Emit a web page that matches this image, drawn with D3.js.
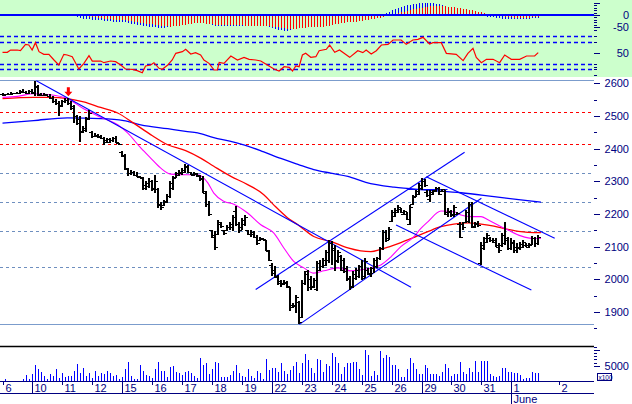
<!DOCTYPE html>
<html>
<head>
<meta charset="utf-8">
<script src="https://cdn.jsdelivr.net/npm/d3@7"></script>
<style>
  body { margin: 0; background: #fff; }
  svg { display: block; font-family: "Liberation Sans", Arial, sans-serif; }
</style>
</head>
<body>
<svg id="chart" width="632" height="404"></svg>
<script>
// ---- data: one entry per intraday bar (10 bars per trading day) ----
const highs = [
  2570,2568,2570,2572,2571,2574,2578,2582,2576,2580,
  2582,2608,2596,2570,2569,2568,2566,2560,2552,2545,
  2550,2556,2555,2546,2535,2504,2499,2468,2496,2519,
  2453,2448,2444,2442,2437,2434,2432,2436,2440,2418,
  2392,2384,2340,2336,2332,2328,2316,2312,2300,2310,
  2305,2320,2280,2237,2244,2261,2300,2315,2330,2336,
  2340,2354,2350,2330,2328,2326,2320,2315,2270,2240,
  2152,2147,2182,2177,2152,2167,2175,2198,2223,2177,
  2188,2198,2152,2152,2147,2137,2131,2126,2121,2091,
  2050,2040,2014,1999,1999,1994,1978,1927,1953,1933,
  1999,2024,2030,2009,2004,2055,2060,2065,2090,2121,
  2116,2106,2091,2075,2065,2040,2009,2024,2035,2045,
  2059,2064,2034,2039,2064,2069,2100,2151,2151,2161,
  2212,2217,2227,2217,2212,2207,2227,2258,2273,2294,
  2309,2306,2273,2273,2273,2284,2284,2278,2273,2217,
  2212,2227,2207,2176,2176,2212,2238,2238,2176,2180,
  2115,2131,2141,2131,2125,2125,2110,2141,2176,2131,
  2125,2120,2110,2115,2120,2110,2110,2133,2131,2136
];
const lows = [
  2562,2563,2563,2565,2566,2566,2568,2570,2566,2566,
  2566,2562,2560,2560,2561,2560,2553,2540,2535,2499,
  2528,2540,2535,2518,2478,2472,2420,2448,2452,2489,
  2434,2435,2432,2428,2412,2418,2416,2420,2417,2412,
  2373,2335,2315,2320,2315,2312,2310,2274,2274,2280,
  2270,2264,2218,2213,2224,2233,2250,2274,2310,2315,
  2320,2325,2325,2318,2316,2314,2300,2265,2222,2194,
  2126,2091,2136,2157,2137,2147,2150,2147,2162,2142,
  2152,2162,2137,2131,2126,2106,2116,2121,2086,2055,
  2009,2004,1984,1978,1984,1973,1902,1912,1897,1863,
  1881,1984,1963,1968,1973,1963,2024,2035,2040,2050,
  2045,2024,2050,2024,2019,1994,1968,1973,1999,2004,
  1998,2003,2013,2008,2018,2034,2060,2090,2115,2120,
  2176,2192,2202,2202,2197,2182,2166,2227,2253,2258,
  2273,2282,2253,2238,2258,2268,2258,2268,2197,2192,
  2192,2192,2197,2125,2151,2171,2171,2156,2156,2160,
  2044,2090,2110,2115,2110,2100,2080,2100,2105,2090,
  2090,2080,2080,2090,2095,2100,2095,2105,2100,2105
];
const opens = [
  2566,2565,2566,2568,2568,2570,2570,2574,2572,2570,
  2576,2570,2590,2565,2564,2565,2562,2556,2545,2540,
  2535,2545,2550,2540,2530,2500,2490,2455,2458,2495,
  2450,2440,2440,2438,2432,2425,2420,2425,2432,2416,
  2390,2378,2338,2325,2330,2318,2314,2310,2290,2285,
  2300,2275,2275,2230,2228,2238,2255,2280,2312,2320,
  2325,2330,2345,2328,2320,2322,2316,2310,2265,2230,
  2150,2135,2140,2170,2150,2150,2160,2160,2210,2170,
  2160,2170,2150,2140,2140,2130,2120,2124,2120,2088,
  2045,2030,2010,1995,1990,1990,1975,1920,1920,1930,
  1885,1990,2025,2000,1980,1970,2030,2040,2045,2060,
  2110,2095,2055,2070,2060,2035,2005,1980,2005,2010,
  2040,2010,2030,2015,2020,2040,2065,2095,2145,2125,
  2180,2195,2205,2215,2200,2200,2170,2230,2255,2262,
  2280,2300,2268,2245,2262,2272,2280,2270,2270,2200,
  2205,2200,2200,2170,2170,2175,2180,2230,2160,2170,
  2050,2095,2115,2125,2120,2120,2100,2105,2110,2125,
  2095,2110,2100,2095,2100,2105,2100,2108,2125,2110
];
const closes = [
  2565,2566,2568,2569,2570,2571,2575,2572,2570,2576,
  2572,2592,2566,2564,2566,2562,2556,2545,2540,2530,
  2545,2550,2540,2525,2500,2480,2452,2462,2492,2510,
  2440,2442,2436,2432,2420,2428,2426,2432,2420,2414,
  2380,2340,2325,2330,2320,2315,2312,2280,2295,2302,
  2280,2300,2228,2222,2240,2256,2295,2310,2325,2330,
  2335,2348,2328,2322,2324,2318,2308,2270,2230,2200,
  2130,2100,2175,2162,2142,2160,2170,2192,2170,2150,
  2182,2190,2140,2145,2130,2112,2128,2122,2090,2060,
  2020,2008,1990,1985,1992,1980,1915,1918,1945,1870,
  1990,2015,1975,1975,1998,2050,2040,2060,2085,2110,
  2090,2060,2085,2030,2025,2000,1975,2015,2030,2040,
  2005,2055,2020,2035,2060,2065,2095,2145,2120,2155,
  2205,2212,2222,2205,2208,2186,2222,2252,2270,2290,
  2302,2290,2258,2268,2270,2280,2262,2275,2205,2210,
  2198,2220,2202,2130,2160,2205,2232,2162,2172,2165,
  2105,2125,2135,2120,2115,2105,2090,2135,2120,2095,
  2115,2090,2098,2108,2115,2104,2105,2125,2110,2130
];
const volumes = [
  0,750,0,0,0,0,0,750,2030,640,
  2350,5230,3950,3100,1710,640,2350,1710,3950,1000,
  2560,1500,1710,1710,3310,5550,2780,4270,1710,2560,
  1200,3310,1710,2780,2240,3310,2780,1710,2030,750,
  1500,3950,6200,1710,750,750,5230,3310,2030,1710,
  1200,3950,6200,3310,3310,1500,4590,4910,3000,2780,
  2030,3100,3310,2780,1710,960,7480,5230,5870,2500,
  3950,6200,5870,1500,1500,1500,2000,3310,5230,2560,
  1710,1500,3950,1710,1000,3310,2560,750,7160,3630,
  4270,4270,3000,5870,3310,2240,3630,4910,6200,2780,
  5870,8760,6840,4270,2700,7100,6840,3000,5450,4910,
  8970,7900,5980,2350,4500,5770,5770,6300,6090,3950,
  2030,10040,8440,1710,3310,2030,9720,7580,8440,7690,
  5230,5230,3950,1500,1500,3950,7580,5770,3950,2240,
  2240,5230,4170,2240,2240,2240,1710,3000,5450,4380,
  1710,2240,2240,6090,3000,2240,4380,3100,6510,3100,
  6510,6510,6510,2240,1600,1500,1710,4380,4380,3100,
  3100,2780,2780,2030,640,960,960,3100,2780,2780
];
// oscillator histogram: blue series drawn first, red series drawn over it
const oscBlue = [
  1,1,1,1,1,1,1,1,1,1, 1,1,1,1,1,1,1,1,1,1,
  -3,-2,-3,-4,-6,-9,-13,-15,-15,-17,
  -19,-20,-21,-22,-24,-25,-25,-28,-29,-28,
  -27,-29,-33,-36,-37,-40,-41,-43,-46,-47,
  -48,-50,-53,-54,-52,-48,-42,-38,-34,-32,
  -30,-28,-27,-27,-28,-30,-29,-31,-34,-37,
  -40,-44,-45,-45,-44,-44,-43,-44,-45,-45,
  -44,-41,-40,-40,-41,-42,-43,-44,-46,-48,
  -52,-58,-60,-63,-64,-64,-62,-58,-52,-47,
  -44,-43,-42,-42,-44,-46,-45,-42,-36,-32,
  -30,-28,-27,-26,-27,-28,-27,-24,-22,-20,
  -19,-18,-17,-16,-14,-10,-4,3,8,12,
  20,25,30,34,37,39,41,43,44,47,
  49,50,49,48,47,46,45,40,36,30,
  26,24,22,18,16,15,14,13,10,6,
  0,-4,-7,-8,-9,-11,-13,-15,-16,-17,
  -18,-18,-18,-17,-17,-16,-15,-14,-13,-12
];
const oscRed = [
  2,2,2,2,2,2,2,2,2,2, 2,2,2,2,2,2,2,2,2,2,
  6,1,0,-1,-2,-3,-4,-5,-6,-7,
  -8,-10,-12,-14,-15,-16,-17,-19,-20,-20,
  -21,-22,-24,-26,-28,-30,-31,-33,-35,-36,
  -38,-40,-42,-44,-45,-46,-47,-46,-45,-44,
  -42,-40,-38,-36,-34,-33,-32,-33,-35,-37,
  -38,-39,-40,-40,-40,-41,-41,-41,-42,-42,
  -42,-43,-43,-43,-44,-44,-45,-45,-46,-46,
  -47,-49,-50,-52,-53,-55,-56,-56,-55,-54,
  -53,-51,-50,-49,-48,-48,-48,-47,-46,-44,
  -40,-38,-36,-34,-32,-30,-29,-28,-27,-25,
  -23,-21,-19,-17,-15,-13,-11,-8,-5,-3,
  1,4,8,11,14,17,20,23,26,28,
  30,32,34,35,36,36,36,36,35,34,
  33,31,29,27,25,23,21,19,16,14,
  11,8,5,2,0,-2,-4,-6,-8,-9,
  -10,-11,-11,-12,-12,-11,-11,-10,-9,-8
];
// RSI-type line, sampled at bar positions
const rsiAt = [0,1.6,2.7,4.9,6,7.7,8.8,9.9,11,12.2,13.8,15.5,17.2,18.8,20.5,21.6,23.3,25.5,27.2,28.9,
  30,32.8,33.9,36.1,37.8,39.5,41.1,43.4,45,46.7,47.8,49.5,50.6,52.3,53.4,55.1,56.7,57.9,60.1,61.2,
  62.9,64.5,66.2,67.3,69,70.7,71.8,72.4,74,76.3,78.5,80.7,82.4,84.6,86.3,88.5,90.7,92.4,94.1,95.8,
  96.9,98,99.1,100.2,101.3,103,104.7,105.8,108.2,109.3,111,112.6,116,118.7,120.4,121.5,123.2,124.9,
  126.6,128.8,130.5,133.2,134.9,137.1,138.8,140.5,142.7,143.8,146.6,148.3,151.6,153.9,155.5,157.2,
  158.3,160,161.7,163.9,166.1,167.8,170,172.8,175.1,177.8,179];
const rsiVal = [50.3,50.3,54.5,54.5,53.3,64.8,63.6,54.5,67.9,51.5,46.7,46.7,36.4,27.3,46.7,45.5,42.4,20,30.3,44.2,
  34.5,34.5,31.5,34.5,33.3,27.3,20,19.4,17,13.3,25.5,27.3,31.5,21.2,19.4,26.7,36.4,48.5,51.5,55.8,
  47.3,49.7,45.5,36.4,30.3,18.2,18.2,32.1,30.3,43.6,36.4,41.2,37.6,36.4,34.5,27.3,20,16.4,24.2,23,
  16.4,25.5,24.2,45.5,48.5,41.2,42.4,53.3,55.8,63.6,50.3,54.5,41.2,53.3,49.7,54.5,47.3,53.3,
  63.6,64.8,72.7,72.7,64.8,72.7,73.9,77.6,65.5,67.9,67.9,48.5,46.7,35.2,48.5,57.6,
  41.2,31.5,37.6,37.6,31.5,45.5,37.6,37.6,43.6,43.6,49.7];
// moving averages, read at bar positions
const maRedAt  = [0,10.4,16,21.7,27.1,32.8,38.5,43.8,49.5,55.2,61.2,66.2,70.6,76.3,81.9,87.3,90.6,95.3,98.7,104,
  109.7,115.4,119.7,123.1,126.4,130.8,136.5,142.1,146.5,150.8,155.5,159.9,164.2,168.9,173.2,177.6,179.9];
const maRedVal = [2553,2557,2557,2553,2543,2526,2509,2478,2443,2412,2394,2371,2346,2315,2290,2259,2228,2188,2167,2131,
  2116,2096,2087,2085,2092,2105,2125,2146,2161,2169,2173,2169,2163,2153,2146,2143,2143];
const maPinkAt  = [0,5,10.4,16,21.7,27.1,32.8,38.5,41.8,46.2,49.5,52.8,56.2,61.2,65.2,68.6,70.6,73.9,77.3,81.9,
  86.3,90.6,94,97.3,100.7,104,107.4,112,116.4,120.4,123.1,126.4,129.8,133.1,137.5,139.8,142.1,146.5,150.8,153.2,
  156.5,159.9,162.2,166.6,168.9,173.2,177.6,179.9];
const maPinkVal = [2557,2560,2568,2565,2553,2522,2496,2473,2448,2402,2371,2341,2322,2320,2320,2295,2264,2239,2230,2203,
  2167,2142,2096,2055,2035,2019,2026,2035,2026,2030,2034,2044,2069,2100,2131,2156,2176,2209,2207,2197,
  2192,2192,2182,2161,2151,2133,2125,2125];
const maBlueAt  = [0,10.4,21.7,32.8,40.5,46.2,55.2,61.2,65.2,70.6,76.3,81.9,87.3,93,98.7,104,109.7,115.4,121.4,130.8,
  142.1,153.2,164.2,173.2,179.9];
const maBlueVal = [2478,2486,2494,2492,2486,2473,2461,2453,2448,2434,2422,2408,2390,2370,2352,2336,2325,2315,2297,2282,
  2273,2265,2253,2243,2236];
// trend lines [fromBar, fromPrice, toBar, toPrice]
const trendLines = [
  [11.3,2608,136.5,1976],
  [84.6,1969,154.4,2389],
  [99.2,1862,160,2248],
  [141.6,2314,184.5,2126],
  [131.5,2166,176.7,1967],
  [135.3,2275,148.7,2275]
];
const rangeLevels = [2610,1862];
const fibLevels = [2324,2236,2148,2039];
const redLevels = [2511,2413];
const rsiLevels = [80,70,30,20];
const signalBar = 22, signalPrice = 2560;
// axis labels
const dayLabels = ["6","10","11","12","15","16","17","18","19","22","23","24","25","26","29","30","31","1","2"];
const dayBars   = [0,10,20,30,40,50,60,70,80,90,100,110,120,130,140,150,160,170,186];
const weekStarts = ["10","15","22","29","1"];
const priceTicks = [1900,2000,2100,2200,2300,2400,2500,2600];

// ---- layout ----
const svg = d3.select("#chart");
const W = 632, plotR = 594, navy = "#000080";

const x = d3.scaleLinear().domain([0, 170]).range([2.5, 511.3]);
const yP = d3.scaleLinear().domain([1900, 2600]).range([312, 83.3]);
const yO = d3.scaleLinear().domain([-50, 0]).range([27.3, 15]);
const yR = d3.scaleLinear().domain([20, 80]).range([69, 36]);
const yV = d3.scaleLinear().domain([0, 5000]).range([381.3, 365.7]);
const px = i => Math.round(x(i));
const idx = d3.range(highs.length);

svg.append("rect").attr("x", 0).attr("y", 0).attr("width", W).attr("height", 77).attr("fill", "#ccffcc");

// ---- oscillator histogram ----
const osc = svg.append("g").attr("shape-rendering", "crispEdges");
osc.selectAll(".ob").data(idx).enter().append("line")
  .attr("x1", i => px(i) + 0.5).attr("x2", i => px(i) + 0.5)
  .attr("y1", yO(0)).attr("y2", i => yO(oscBlue[i]))
  .attr("stroke", "#0000ff");
osc.selectAll(".or").data(idx).enter().append("line")
  .attr("x1", i => px(i) + 0.5).attr("x2", i => px(i) + 0.5)
  .attr("y1", yO(0)).attr("y2", i => yO(oscRed[i]))
  .attr("stroke", "#ff0000");
osc.append("line").attr("x1", 0).attr("x2", plotR).attr("y1", yO(0)).attr("y2", yO(0))
  .attr("stroke", "#0000ff").attr("stroke-width", 1.6);

// ---- RSI panel ----
svg.append("g").selectAll("line").data(rsiLevels).enter().append("line")
  .attr("x1", 0).attr("x2", plotR)
  .attr("y1", d => Math.round(yR(d)) + 0.5).attr("y2", d => Math.round(yR(d)) + 0.5)
  .attr("stroke", "#0000ff").attr("stroke-width", 1.5).attr("stroke-dasharray", "4,3");
svg.append("path").datum(rsiAt)
  .attr("d", d3.line().x(i => x(i)).y((i, k) => yR(rsiVal[k])))
  .attr("fill", "none").attr("stroke", "#ff0000").attr("stroke-width", 1.2);

// ---- price panel: levels ----
const lv = svg.append("g").attr("shape-rendering", "crispEdges");
lv.selectAll(".rg").data(rangeLevels).enter().append("line")
  .attr("x1", 0).attr("x2", plotR)
  .attr("y1", d => Math.round(yP(d)) + 0.5).attr("y2", d => Math.round(yP(d)) + 0.5)
  .attr("stroke", "#7b9ccc").attr("stroke-width", 1.5);
lv.selectAll(".fb").data(fibLevels).enter().append("line")
  .attr("x1", 0).attr("x2", plotR)
  .attr("y1", d => Math.round(yP(d)) + 0.5).attr("y2", d => Math.round(yP(d)) + 0.5)
  .attr("stroke", "#6f8fbf").attr("stroke-dasharray", "3,3").attr("stroke-width", 1.3);
lv.selectAll(".rd").data(redLevels).enter().append("line")
  .attr("x1", 0).attr("x2", plotR)
  .attr("y1", d => Math.round(yP(d)) + 0.5).attr("y2", d => Math.round(yP(d)) + 0.5)
  .attr("stroke", "#ff0000").attr("stroke-dasharray", "3,3").attr("stroke-width", 1.3);

// ---- moving averages ----
function maLine(at, val, color, w) {
  svg.append("path").datum(at)
    .attr("d", d3.line().x(i => x(i)).y((i, k) => yP(val[k])).curve(d3.curveMonotoneX))
    .attr("fill", "none").attr("stroke", color).attr("stroke-width", w);
}
maLine(maBlueAt, maBlueVal, "#0000ff", 1.3);
maLine(maRedAt, maRedVal, "#ff0000", 1.3);
maLine(maPinkAt, maPinkVal, "#ff00ff", 1.1);

// ---- trend lines ----
svg.append("g").selectAll("line").data(trendLines).enter().append("line")
  .attr("x1", d => x(d[0])).attr("y1", d => yP(d[1]))
  .attr("x2", d => x(d[2])).attr("y2", d => yP(d[3]))
  .attr("stroke", "#0000ff").attr("stroke-width", 1.1);

// ---- OHLC bars ----
const bars = svg.append("g").attr("fill", "#000").attr("shape-rendering", "crispEdges");
idx.forEach(i => {
  const xt = px(i), yh = Math.round(yP(highs[i])), yl = Math.round(yP(lows[i]));
  bars.append("rect").attr("x", xt - 1).attr("y", yh).attr("width", 2).attr("height", Math.max(1, yl - yh));
  bars.append("rect").attr("x", xt - 3).attr("y", Math.round(yP(opens[i]))).attr("width", 2).attr("height", 1);
  bars.append("rect").attr("x", xt + 1).attr("y", Math.round(yP(closes[i]))).attr("width", 2).attr("height", 1);
});

// signal arrow
const ax = x(signalBar), ay = yP(signalPrice);
svg.append("path")
  .attr("d", `M${ax - 1.5},${ay - 9} h3 v4.5 h2.5 l-4,4.5 l-4,-4.5 h2.5 z`)
  .attr("fill", "#ff0000");

// ---- volume panel ----
svg.append("line").attr("x1", 0).attr("x2", plotR).attr("y1", 346.5).attr("y2", 346.5)
  .attr("stroke", "#000").attr("stroke-width", 1.3);
svg.append("g").attr("shape-rendering", "crispEdges").selectAll("line").data(idx).enter().append("line")
  .attr("x1", i => px(i) + 0.5).attr("x2", i => px(i) + 0.5)
  .attr("y1", yV(0)).attr("y2", i => yV(volumes[i]))
  .attr("stroke", "#0000ff").attr("stroke-width", 1.2);

// ---- date axis ----
const xa = svg.append("g").attr("shape-rendering", "crispEdges");
xa.append("line").attr("x1", 0).attr("x2", plotR).attr("y1", 381.5).attr("y2", 381.5).attr("stroke", navy).attr("stroke-width", 1.3);
xa.append("line").attr("x1", 0).attr("x2", plotR).attr("y1", 393.5).attr("y2", 393.5).attr("stroke", navy).attr("stroke-width", 1.3);
dayLabels.forEach((lab, k) => {
  const xt = px(dayBars[k]) + 0.5;
  const long = weekStarts.includes(lab);
  xa.append("line").attr("x1", xt).attr("x2", xt).attr("y1", 381).attr("y2", long ? 393 : 385)
    .attr("stroke", navy);
  svg.append("text").attr("x", xt + 2).attr("y", 391.5).attr("font-size", 11).attr("fill", navy).text(lab);
});
const jx = px(170) + 0.5;
xa.append("line").attr("x1", jx).attr("x2", jx).attr("y1", 393).attr("y2", 404).attr("stroke", navy);
svg.append("text").attr("x", jx + 2).attr("y", 403).attr("font-size", 11).attr("fill", navy).text("June");

// ---- right axes ----
const ra = svg.append("g").attr("stroke", navy).attr("shape-rendering", "crispEdges");
const label = (y, t) => svg.append("text").attr("x", 629).attr("y", y + 4).attr("text-anchor", "end")
  .attr("font-size", 11).attr("fill", navy).text(t);
d3.range(1850, 2651, 50).forEach(v => {
  const y = Math.round(yP(v)) + 0.5;
  ra.append("line").attr("x1", 594).attr("x2", v % 100 === 0 ? 600 : 597).attr("y1", y).attr("y2", y);
});
priceTicks.forEach(v => label(yP(v), v));
d3.range(-50, 51, 10).forEach(v => {
  const y = Math.round(yO(v)) + 0.5;
  if (y < 0) return;
  ra.append("line").attr("x1", 594).attr("x2", v % 50 === 0 ? 600 : 597).attr("y1", y).attr("y2", y);
});
label(yO(0), "0");
label(yO(-50), "-50");
[90, 80, 70, 50, 30, 20, 10].forEach(v => {
  const y = Math.round(yR(v)) + 0.5;
  ra.append("line").attr("x1", 594).attr("x2", v === 50 ? 600 : 597).attr("y1", y).attr("y2", y);
});
label(yR(50), "50");
d3.range(5000, 11001, 1000).forEach(v => {
  const y = Math.round(yV(v)) + 0.5;
  ra.append("line").attr("x1", 594).attr("x2", v % 5000 === 0 ? 600 : 597).attr("y1", y).attr("y2", y);
});
label(yV(5000), "5000");
svg.append("rect").attr("x", 597.5).attr("y", 373.5).attr("width", 14).attr("height", 7)
  .attr("fill", "#fff").attr("stroke", navy);
svg.append("text").attr("x", 598.5).attr("y", 379.5).attr("font-size", 6.5).attr("fill", navy).text("x100");
</script>
</body>
</html>
